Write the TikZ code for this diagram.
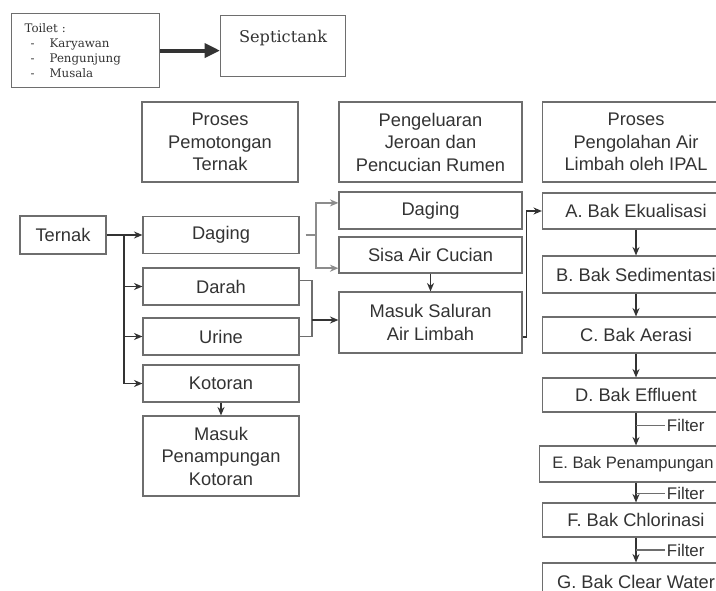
\documentclass[tikz,border=0pt]{standalone}
\usepackage{fontspec}
\setmainfont{Liberation Sans}
\newfontfamily\toiletfont{DejaVu Serif}
\usepackage{xcolor}
\usepackage{tikz}
\usetikzlibrary{arrows.meta,positioning,calc}

\definecolor{ink}{HTML}{333333}
\definecolor{edge}{HTML}{6E6E6E}
\definecolor{soft}{HTML}{8C8C8C}

\begin{document}
\begin{tikzpicture}[
    x=0.025cm, y=-0.025cm,
    font=\fontsize{13}{16}\selectfont, text=ink,
    box/.style={rectangle, draw=edge, line width=0.8pt, minimum height=0.925cm, align=center, inner sep=2pt},
    colA/.style={box, minimum width=3.9cm},
    colB/.style={box, minimum width=4.575cm},
    colC/.style={box, minimum width=4.675cm},
    arrow/.style={-{Stealth[length=6pt, width=5pt]}, draw=ink, line width=1.1pt},
    garrow/.style={-{Stealth[length=6pt, width=5pt]}, draw=soft, line width=1.1pt},
    link/.style={draw=edge, line width=0.8pt},
    filter/.style={font=\fontsize{12}{14}\selectfont, right, inner sep=1pt}
]
\useasboundingbox (0,0) rectangle (716,591);
\clip (0,0) rectangle (716,591);

% Toilet and septic tank
\node[box, anchor=north west, text width=3.05cm, inner xsep=0.325cm, minimum height=1.85cm, align=left,
      font=\toiletfont\fontsize{8.4}{10.5}\selectfont] (toilet) at (11,13)
      {Toilet :\\
       \hspace*{0.15cm}\makebox[0.475cm][l]{-}Karyawan\\
       \hspace*{0.15cm}\makebox[0.475cm][l]{-}Pengunjung\\
       \hspace*{0.15cm}\makebox[0.475cm][l]{-}Musala};
\node[box, anchor=north west, minimum width=3.125cm, text height=0.675cm, text depth=0.85cm, inner ysep=0pt,
      font=\toiletfont\fontsize{11.5}{14}\selectfont] (septic) at (220,15) {Septictank};
\draw[-{Triangle[length=11pt, width=10pt]}, draw=ink, line width=2.8pt] (toilet.east) -- (toilet.east -| septic.west);

% Headers
\node[colA, minimum height=2cm] (hpotong) at (220,142) {Proses\\Pemotongan\\Ternak};
\node[colB, minimum height=2cm] (hjeroan) at (430.5,142) {Pengeluaran\\Jeroan dan\\Pencucian Rumen};
\node[colC, minimum height=2cm] (hipal) at (636,142) {Proses\\Pengolahan Air\\Limbah oleh IPAL};

% Pemotongan
\node[box, minimum width=2.15cm, minimum height=0.95cm] (ternak) at (63,235) {Ternak};
\node[colA] (daging) at (221,235) {Daging};
\node[colA] (darah) at (221,286.5) {Darah};
\node[colA] (urine) at (221,336.5) {Urine};
\node[colA] (kotoran) at (221,383.5) {Kotoran};
\node[colA, minimum height=2cm] (tampung) at (221,456) {Masuk\\Penampungan\\Kotoran};

% Jeroan
\node[colB] (dagingB) at (430.5,210.5) {Daging};
\node[colB, minimum height=0.9cm] (sisa) at (430.5,255) {Sisa Air Cucian};
\node[colB, minimum height=1.525cm] (saluran) at (430.5,322.5) {Masuk Saluran\\Air Limbah};

% IPAL
\node[colC, minimum height=0.9cm] (ekual) at (636,211) {A. Bak Ekualisasi};
\node[colC, minimum height=0.925cm] (sedimen) at (636,274.5) {B. Bak Sedimentasi};
\node[colC, minimum height=0.9cm] (aerasi) at (636,335) {C. Bak Aerasi};
\node[colC, minimum height=0.85cm] (effluent) at (636,395) {D. Bak Effluent};
\node[colC, minimum height=0.9cm, font=\fontsize{11.8}{14}\selectfont] (tampungC) at (633,464) {E. Bak Penampungan};
\node[colC, minimum height=0.85cm] (klorin) at (636,520) {F. Bak Chlorinasi};
\node[colC, minimum height=0.925cm] (clear) at (636,581.5) {G. Bak Clear Water};

% Links
\coordinate (split) at (124,235);
\draw[arrow] (ternak) -- (daging);
\foreach \n in {darah,urine,kotoran}
    \draw[arrow] (split) |- (\n);
\draw[arrow] (kotoran) -- (tampung);

\coordinate (gfork) at (316,235);
\draw[draw=soft, line width=1.1pt] ([xshift=0.15cm]daging.east) -- (gfork);
\draw[garrow] (gfork) |- ([yshift=0.19cm]dagingB.west);
\draw[garrow] (gfork) |- ([yshift=-0.33cm]sisa.west);

\coordinate (dujoin) at (312,320);
\draw[link] ([yshift=0.16cm]darah.east) -| (dujoin) |- (urine.east);
\draw[arrow] (dujoin) -- (dujoin -| saluran.west);
\draw[arrow] (sisa) -- (saluran);
\draw[arrow] ([yshift=-0.36cm]saluran.east) -- ++(4,0) |- (ekual);

\draw[arrow] (ekual) -- (sedimen);
\draw[arrow] (sedimen) -- (aerasi);
\draw[arrow] (aerasi) -- (effluent);
\draw[arrow] (effluent) -- (effluent |- tampungC.north);
\draw[arrow] (effluent |- tampungC.south) -- (klorin);
\draw[arrow] (klorin) -- (clear);
\draw[link] ($(effluent.south)!0.4!(effluent |- tampungC.north)$) -- ++(29,0) node[filter] (fD) {Filter};
\draw[link] ($(effluent |- tampungC.south)!0.55!(klorin.north)$) -- ++(29,0) node[filter] (fE) {Filter};
\draw[link] ($(klorin.south)!0.5!(clear.north)$) -- ++(29,0) node[filter] (fF) {Filter};

\end{tikzpicture}
\end{document}
